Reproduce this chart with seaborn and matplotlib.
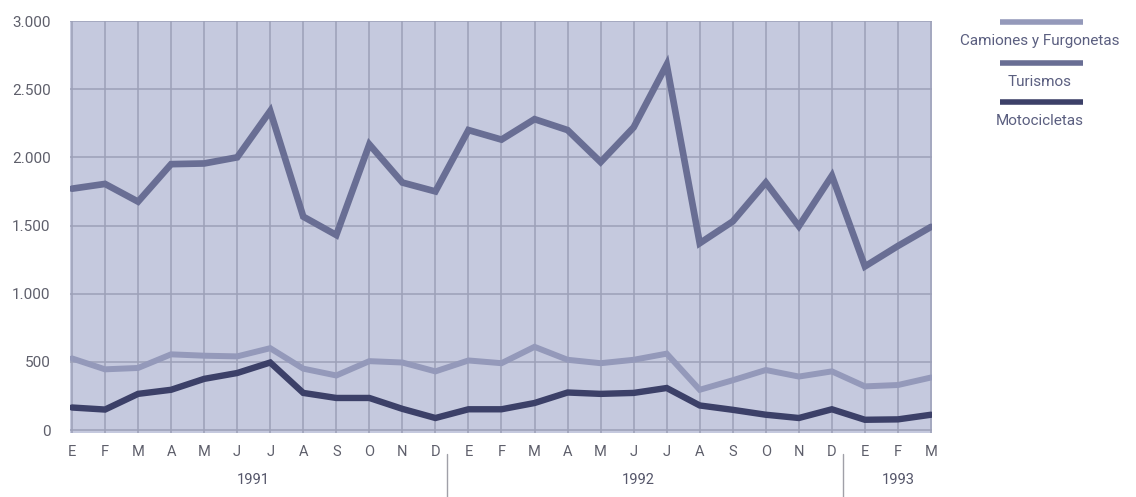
import pandas as pd
import matplotlib
matplotlib.use('Agg')
import matplotlib.pyplot as plt
import seaborn as sns
from matplotlib.lines import Line2D

# datos mensuales, enero 1991 - marzo 1993
meses = ['E', 'F', 'M', 'A', 'M', 'J', 'J', 'A', 'S', 'O', 'N', 'D',
         'E', 'F', 'M', 'A', 'M', 'J', 'J', 'A', 'S', 'O', 'N', 'D',
         'E', 'F', 'M']
turismos = [1770, 1805, 1675, 1950, 1955, 2000, 2340, 1565, 1430, 2095, 1815, 1750,
            2200, 2130, 2280, 2200, 1965, 2220, 2680, 1370, 1530, 1815, 1495, 1865,
            1200, 1350, 1490]
camiones = [525, 445, 455, 555, 545, 540, 600, 450, 400, 505, 495, 430,
            510, 490, 610, 515, 490, 515, 560, 295, 365, 440, 392, 430,
            320, 330, 385]
motos = [165, 150, 265, 295, 375, 418, 495, 272, 235, 235, 155, 88,
         152, 152, 198, 275, 265, 272, 308, 180, 148, 112, 88, 152,
         75, 78, 112]
anios = ['1991', '1992', '1993']
anio_pos = [5.5, 17.15, 25.0]
separadores = [11.35, 23.35]
yticks = [0, 500, 1000, 1500, 2000, 2500, 3000]
ylabels = ['0', '500', '1.000', '1.500', '2.000', '2.500', '3.000']

series = ['Camiones y Furgonetas', 'Turismos', 'Motocicletas']
colores = {'Camiones y Furgonetas': '#9499ba',
           'Turismos': '#696e94',
           'Motocicletas': '#3c4068'}
grosor = {'Camiones y Furgonetas': 4.3, 'Turismos': 4.8, 'Motocicletas': 4.6}

x = list(range(len(meses)))
df = pd.DataFrame({
    'x': x * 3,
    'valor': camiones + turismos + motos,
    'serie': [series[0]] * len(x) + [series[1]] * len(x) + [series[2]] * len(x),
})

sns.set_style('white')
plt.rcParams['font.family'] = ['Roboto', 'DejaVu Sans']

fig = plt.figure(figsize=(11.36, 4.97), dpi=100)
ax = fig.add_axes([70 / 1136, 1 - 433 / 497, 862 / 1136, 412 / 497])
ax.set_facecolor('#c5c9de')

for s in series:
    sns.lineplot(data=df[df['serie'] == s], x='x', y='valor', color=colores[s],
                 linewidth=grosor[s], ax=ax, legend=False, zorder=3,
                 solid_joinstyle='miter')

ax.set_xlim(-0.06, 26.03)
ax.set_ylim(-22, 3000)
ax.set_xticks(x)
ax.set_xticklabels(meses)
ax.set_yticks(yticks)
ax.set_yticklabels(ylabels)
ax.set_xlabel('')
ax.set_ylabel('')

ax.grid(True, color='#9ca0b8', linewidth=1.1)
ax.set_axisbelow(True)
for sp in ax.spines.values():
    sp.set_visible(False)

ax.tick_params(axis='x', length=8, width=1, color='#a0a4ba',
               labelsize=10.5, pad=1, direction='out')
ax.tick_params(axis='y', length=9, width=1, color='#a0a4ba',
               labelsize=11, pad=5, direction='out')
for t in ax.get_xticklabels() + ax.get_yticklabels():
    t.set_color('#5e5f6b')

# años y separadores
for a, p in zip(anios, anio_pos):
    ax.text(p, -0.115, a, transform=ax.get_xaxis_transform(), ha='center', va='center',
            fontsize=10.5, color='#55566a')
for p in separadores:
    ax.plot([p, p], [-0.05, -0.16], transform=ax.get_xaxis_transform(),
            color='#a0a0a8', linewidth=1, clip_on=False)

# leyenda
leyenda_y = [22, 63, 102]
for s, yy in zip(series, leyenda_y):
    fy = 1 - yy / 497
    fig.add_artist(Line2D([1000 / 1136, 1083 / 1136], [fy, fy], color=colores[s],
                          linewidth=4, solid_capstyle='butt',
                          transform=fig.transFigure))
    fig.text(1040 / 1136, 1 - (yy + 19) / 497, s, ha='center', va='center',
             fontsize=11, color='#5b5f80')

fig.savefig('out.png', dpi=100)
